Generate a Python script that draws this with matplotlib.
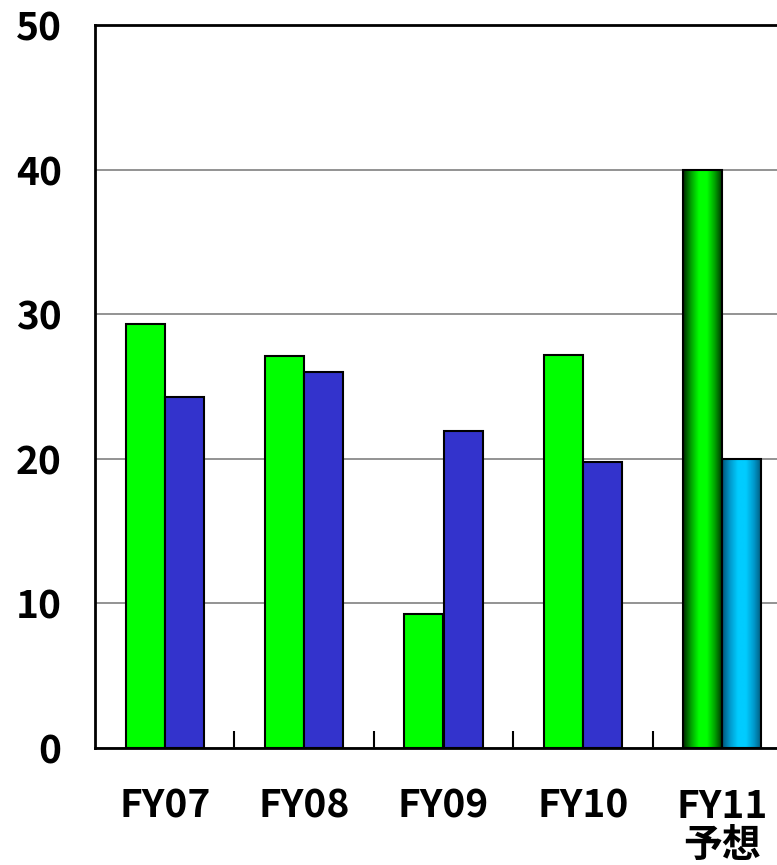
import numpy as np
import matplotlib.pyplot as plt
from matplotlib.colors import LinearSegmentedColormap

plt.rcParams['font.family'] = ['Noto Sans CJK JP', 'DejaVu Sans']

categories = ['FY07', 'FY08', 'FY09', 'FY10', 'FY11\n予想']
green_vals = [29.3, 27.1, 9.3, 27.2, 40.0]
blue_vals = [24.3, 26.0, 21.9, 19.8, 20.0]

fig = plt.figure(figsize=(7.77, 8.65), dpi=100)
# axes runs past the right edge of the picture, like the original
ax = fig.add_axes([95/777, 1 - 748/865, (792 - 95)/777, (748 - 25)/865])

x = np.arange(len(categories))
w = 0.28

b1 = ax.bar(x - w/2, green_vals, w, color='#00ff00', edgecolor='black', linewidth=1.5, zorder=3)
b2 = ax.bar(x + w/2, blue_vals, w, color='#3333cc', edgecolor='black', linewidth=1.5, zorder=3)

# cylinder shading on the forecast bars
g_cmap = LinearSegmentedColormap.from_list('g', ['#002800', '#00a000', '#00ff00', '#00ff00', '#00a000', '#002800'])
c_cmap = LinearSegmentedColormap.from_list('c', ['#005577', '#0099cc', '#00ccff', '#00ccff', '#0099cc', '#005577'])
grad = np.linspace(0, 1, 256).reshape(1, -1)
for bar, cm in [(b1[-1], g_cmap), (b2[-1], c_cmap)]:
    bx, by = bar.get_x(), bar.get_y()
    bw, bh = bar.get_width(), bar.get_height()
    bar.set_facecolor('none')
    bar.set_zorder(4)
    im = ax.imshow(grad, cmap=cm, aspect='auto', extent=(bx, bx + bw, by, by + bh), zorder=3.5)
    im.set_clip_path(bar)

ax.set_xlim(-0.5, len(categories) - 0.5)
ax.set_ylim(0, 50)
ax.set_yticks(range(0, 51, 10))
ax.yaxis.grid(True, color='#808080', linewidth=1.2, zorder=0)
ax.set_axisbelow(True)

ax.set_xticks(x)
ax.set_xticklabels(categories, fontsize=28, fontweight='bold', linespacing=1.0)
ax.tick_params(axis='x', length=0, pad=28)
ax.set_xticks(x[:-1] + 0.5, minor=True)
ax.tick_params(axis='x', which='minor', direction='in', length=12, width=1.5)
ax.tick_params(axis='y', direction='in', length=0, pad=24, labelsize=28)
for t in ax.get_yticklabels():
    t.set_fontweight('bold')

for s in ['left', 'bottom', 'top']:
    ax.spines[s].set_linewidth(2)
ax.spines['right'].set_visible(False)

plt.savefig('out.png', dpi=100)
